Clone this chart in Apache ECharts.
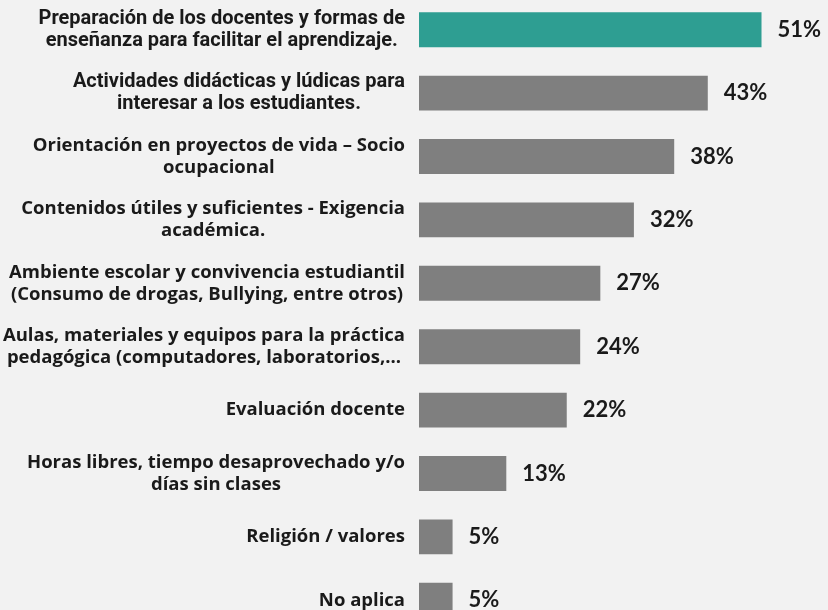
<!DOCTYPE html>
<html>
<head>
<meta charset="utf-8">
<script src="https://cdn.jsdelivr.net/npm/echarts@6/dist/echarts.min.js"></script>
<style>
  html, body { margin: 0; padding: 0; background: #f2f2f2; }
  #chart { width: 828px; height: 610px; }
</style>
</head>
<body>
<div id="chart"></div>
<script>
// categories, top to bottom
const categories = [
  'Preparación de los docentes y formas de\nenseñanza para facilitar el aprendizaje.',
  'Actividades didácticas y lúdicas para\ninteresar a los estudiantes.',
  'Orientación en proyectos de vida – Socio\nocupacional',
  'Contenidos útiles y suficientes - Exigencia\nacadémica.',
  'Ambiente escolar y convivencia estudiantil\n(Consumo de drogas, Bullying, entre otros)',
  'Aulas, materiales y equipos para la práctica\npedagógica (computadores, laboratorios,...',
  'Evaluación docente',
  'Horas libres, tiempo desaprovechado y/o\ndías sin clases',
  'Religión / valores',
  'No aplica'
];
const values = [51, 43, 38, 32, 27, 24, 22, 13, 5, 5];
const highlightIndex = 0;
// the first two labels use a narrower font in the original
const narrowLabels = 2;

const chart = echarts.init(document.getElementById('chart'));

chart.setOption({
  backgroundColor: '#f2f2f2',
  animation: false,
  grid: { left: 419, right: 0, top: -2, height: 634, outerBoundsMode: 'none' },
  xAxis: {
    type: 'value',
    min: 0,
    max: 60.9,
    show: false
  },
  yAxis: {
    type: 'category',
    inverse: true,
    data: categories,
    axisLine: { show: false },
    axisTick: { show: false },
    axisLabel: {
      margin: 14,
      align: 'right',
      // centre each line inside the right-aligned block
      formatter: (v, i) => {
        const s = i < narrowLabels ? 'n' : 'c';
        return v.split('\n').map(l => '{' + s + '|' + l + '}').join('\n');
      },
      rich: {
        c: {
          align: 'center',
          color: '#1a1a1a',
          fontFamily: 'Open Sans',
          fontWeight: 'bold',
          fontSize: 18.5,
          lineHeight: 22
        },
        n: {
          align: 'center',
          color: '#1a1a1a',
          fontFamily: 'Roboto',
          fontWeight: 'bold',
          fontSize: 20,
          lineHeight: 22
        }
      }
    }
  },
  series: [{
    type: 'bar',
    data: values.map((v, i) => ({
      value: v,
      itemStyle: { color: i === highlightIndex ? '#2e9e92' : '#7f7f7f' }
    })),
    barWidth: '55%',
    label: {
      show: true,
      position: 'right',
      distance: 16,
      formatter: '{c}%',
      color: '#1a1a1a',
      fontFamily: 'Lato',
      fontSize: 22,
      fontWeight: 'bold'
    }
  }]
});
</script>
</body>
</html>
